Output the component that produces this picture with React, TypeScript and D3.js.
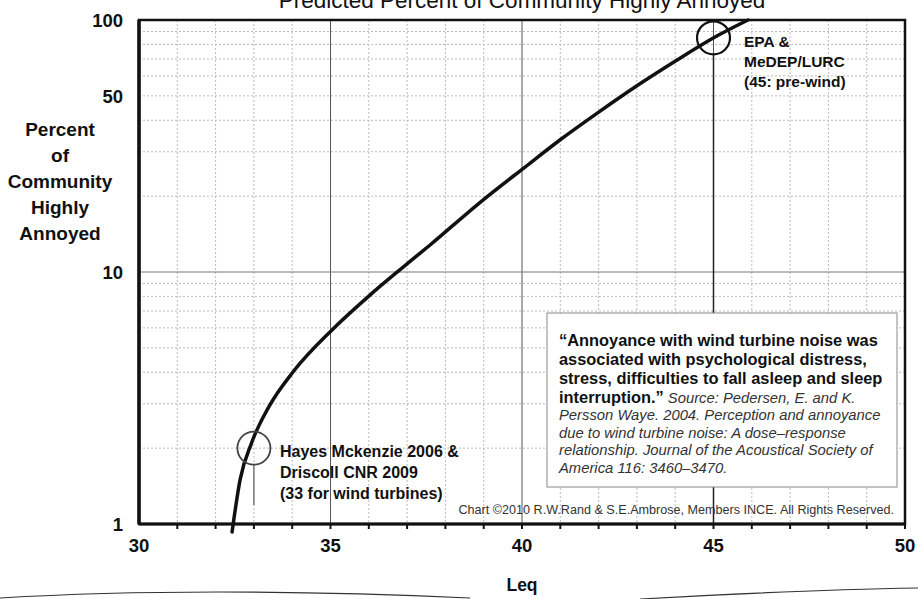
import React from "react";
import * as d3 from "d3";

// curve (Leq dB vs % highly annoyed)
const leq = [32.43, 32.64, 32.94, 33.42, 34.02, 35.04, 36.03, 36.81, 37.6, 38.98, 40.08, 40.99, 42.04, 43.03, 44.05, 45.04, 45.9];
const pctAnnoyed = [0.93, 1.5, 2.1, 2.97, 4.01, 5.89, 8.1, 10.2, 12.8, 19.3, 26.1, 33.4, 43.5, 55.2, 69.4, 85.6, 100];

// circled reference levels
const markerLeq = [33, 45];
const markerPct = [2, 85];

const xTicks = [30, 35, 40, 45, 50];
const yTicks = [1, 10, 50, 100];

const yTitle = ["Percent", "of", "Community", "Highly", "Annoyed"];
const epaLabel = ["EPA &", "MeDEP/LURC", "(45: pre-wind)"];
const hayesLabel = ["Hayes Mckenzie 2006 &", "Driscoll CNR 2009", "(33 for wind turbines)"];
const quoteBold = [
  "\u201cAnnoyance with wind turbine noise was",
  "associated with psychological distress,",
  "stress, difficulties to fall asleep and sleep",
];
const quoteItalic = [
  "Persson Waye. 2004. Perception and annoyance",
  "due to wind turbine noise: A dose\u2013response",
  "relationship. Journal of the Acoustical Society of",
  "America 116: 3460\u20133470.",
];

const W = 918;
const H = 599;
const left = 139;
const right = 905;
const top = 20;
const bottom = 524;
const font = "'Liberation Sans', Arial, sans-serif";

export default function App() {
  const x = d3.scaleLinear().domain([30, 50]).range([left, right]);
  const y = d3.scaleLog().domain([1, 100]).range([bottom, top]);

  const line = d3
    .line<number>()
    .x((d, i) => x(leq[i]))
    .y((d) => y(d))
    .curve(d3.curveMonotoneX);

  const minorX = d3.range(31, 50).filter((v) => v % 5 !== 0);
  const minorY = [2, 3, 4, 5, 6, 7, 8, 9, 20, 30, 40, 50, 60, 70, 80, 90];

  return (
    <svg
      width={W}
      height={H}
      style={{ position: "absolute", left: 0, top: 0, background: "#fff" }}
      fontFamily={font}
    >
      {/* title, cut off by the scan */}
      <text x={(left + right) / 2} y={8} textAnchor="middle" fontSize={22.5} fill="#111">
        Predicted Percent of Community Highly Annoyed
      </text>

      {/* grid */}
      {minorY.map((v) => (
        <line key={"gy" + v} x1={left} x2={right} y1={y(v)} y2={y(v)} stroke="#bbb" strokeWidth={1} strokeDasharray="2,2" />
      ))}
      {minorX.map((v) => (
        <line key={"gx" + v} x1={x(v)} x2={x(v)} y1={top} y2={bottom} stroke="#bbb" strokeWidth={1} strokeDasharray="2,2" />
      ))}
      {[35, 40, 45].map((v) => (
        <line key={"mx" + v} x1={x(v)} x2={x(v)} y1={top} y2={bottom} stroke="#555" strokeWidth={1} />
      ))}
      <line x1={left} x2={right} y1={y(10)} y2={y(10)} stroke="#777" strokeWidth={1} />

      {/* marker drop lines */}
      <line x1={x(markerLeq[1])} x2={x(markerLeq[1])} y1={y(markerPct[1]) + 16} y2={bottom} stroke="#222" strokeWidth={1.5} />
      <line x1={x(markerLeq[0])} x2={x(markerLeq[0])} y1={y(markerPct[0]) + 16} y2={505} stroke="#777" strokeWidth={1.5} />

      {/* quote box */}
      <rect x={547} y={313} width={350} height={174} fill="#fff" stroke="#888" strokeWidth={1} />
      {quoteBold.map((t, i) => (
        <text key={"qb" + i} x={559} y={346 + i * 19} fontSize={16.4} fontWeight="bold" fill="#111">
          {t}
        </text>
      ))}
      <text x={559} y={403} fontSize={16.4} fill="#111">
        <tspan fontWeight="bold">interruption.{"\u201d"}</tspan>
        <tspan fontStyle="italic" fontSize={14.8} fill="#333">
          {" "}Source: Pedersen, E. and K.
        </tspan>
      </text>
      {quoteItalic.map((t, i) => (
        <text key={"qi" + i} x={559} y={420 + i * 17.5} fontSize={14.8} fontStyle="italic" fill="#333">
          {t}
        </text>
      ))}

      <text x={894} y={514} textAnchor="end" fontSize={12.6} fill="#333">
        Chart ©2010 R.W.Rand &amp; S.E.Ambrose, Members INCE. All Rights Reserved.
      </text>

      {/* frame */}
      <rect x={left} y={top} width={right - left} height={bottom - top} fill="none" stroke="#111" strokeWidth={2.5} />
      {d3.range(31, 51).map((v) => (
        <line key={"tk" + v} x1={x(v)} x2={x(v)} y1={bottom} y2={bottom + 5} stroke="#111" strokeWidth={2} />
      ))}
      <line x1={left} x2={right} y1={bottom} y2={bottom} stroke="#111" strokeWidth={3} />
      <line x1={left} x2={left} y1={top} y2={bottom} stroke="#111" strokeWidth={3.5} />

      {/* response curve */}
      <path d={line(pctAnnoyed) || ""} fill="none" stroke="#111" strokeWidth={3.5} strokeLinecap="round" />

      {/* circles */}
      <circle cx={x(markerLeq[0])} cy={y(markerPct[0])} r={16.5} fill="none" stroke="#444" strokeWidth={1.8} />
      <circle cx={x(markerLeq[1])} cy={y(markerPct[1])} r={16.5} fill="none" stroke="#111" strokeWidth={2.2} />

      {epaLabel.map((t, i) => (
        <text key={"ep" + i} x={744} y={46.5 + i * 20.3} fontSize={15.5} fontWeight="bold" fill="#111">
          {t}
        </text>
      ))}
      {hayesLabel.map((t, i) => (
        <text key={"hm" + i} x={280} y={457 + i * 21} fontSize={16} fontWeight="bold" fill="#111">
          {t}
        </text>
      ))}

      {/* axes labels */}
      {yTicks.map((v) => (
        <text key={"yl" + v} x={123} y={y(v)} dy="0.38em" textAnchor="end" fontSize={18.5} fontWeight="bold" fill="#111">
          {v}
        </text>
      ))}
      {xTicks.map((v) => (
        <text key={"xl" + v} x={x(v)} y={552} textAnchor="middle" fontSize={18.5} fontWeight="bold" fill="#111">
          {v}
        </text>
      ))}
      <text x={x(40)} y={591} textAnchor="middle" fontSize={17.5} fontWeight="bold" fill="#111">
        Leq
      </text>
      {yTitle.map((t, i) => (
        <text key={"yt" + i} x={60} y={136 + i * 26} textAnchor="middle" fontSize={19} fontWeight="bold" fill="#111">
          {t}
        </text>
      ))}

      {/* page curl from the scan */}
      <path d="M0,598 Q200,586 470,598" fill="none" stroke="#333" strokeWidth={1.2} />
      <path d="M640,599 Q800,590 918,588" fill="none" stroke="#333" strokeWidth={1.2} />
    </svg>
  );
}
